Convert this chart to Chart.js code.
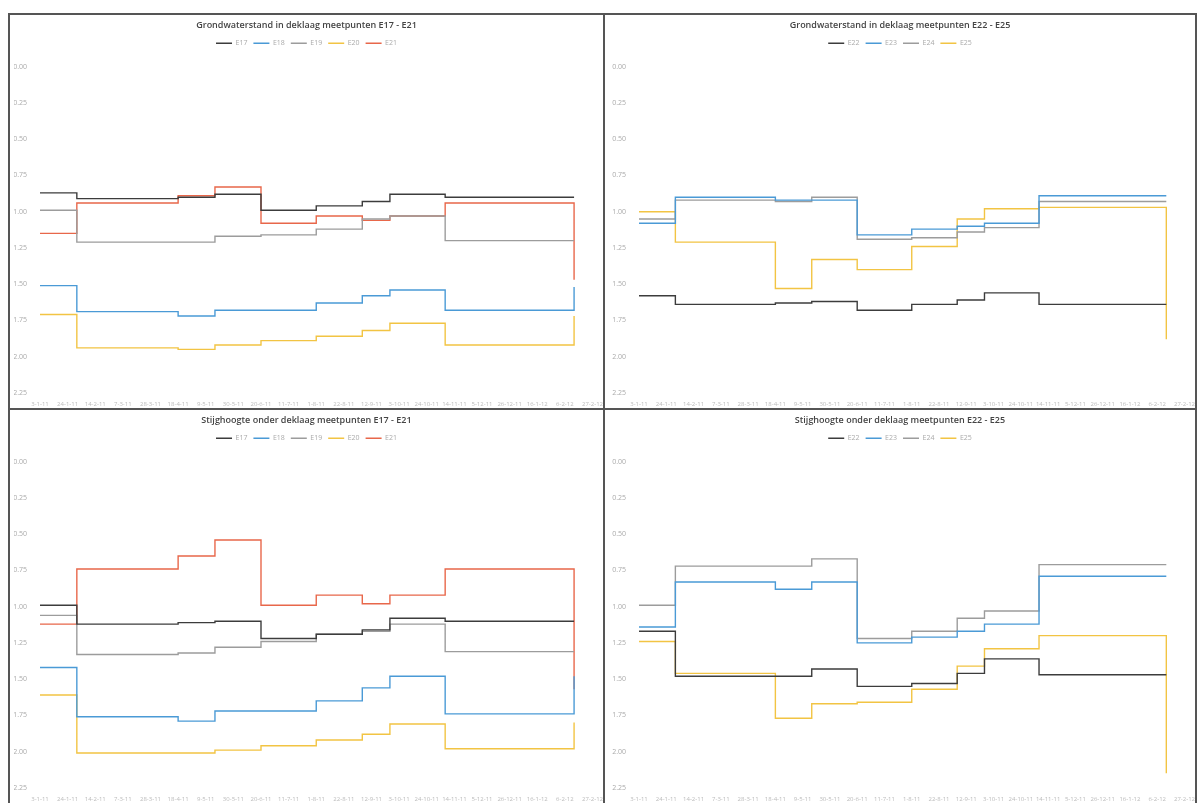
<!DOCTYPE html>
<html>
<head>
<meta charset="utf-8">
<script src="https://cdn.jsdelivr.net/npm/chart.js@4/dist/chart.umd.min.js"></script>
<style>
  body { margin: 0; background: #fff; width: 1198px; height: 803px; overflow: hidden; position: relative; }
  .paneel { position: absolute; box-sizing: border-box; border: 2px solid #555; background: #fff; }
  .paneel canvas { position: absolute; left: 0; top: 0; }
</style>
</head>
<body>
<div class="paneel" style="left:8px;top:13px;width:597px;height:397px"><canvas id="gw1721" width="593" height="393"></canvas></div>
<div class="paneel" style="left:603px;top:13px;width:594px;height:397px"><canvas id="gw2225" width="590" height="393"></canvas></div>
<div class="paneel" style="left:8px;top:408px;width:597px;height:420px"><canvas id="st1721" width="593" height="393"></canvas></div>
<div class="paneel" style="left:603px;top:408px;width:594px;height:420px"><canvas id="st2225" width="590" height="393"></canvas></div>
<script>
// meetdatums (x-as)
const datums = [
  '3-1-11','10-1-11','17-1-11','24-1-11','31-1-11','7-2-11','14-2-11','21-2-11','28-2-11','7-3-11',
  '14-3-11','21-3-11','28-3-11','4-4-11','11-4-11','18-4-11','25-4-11','2-5-11','9-5-11','16-5-11',
  '23-5-11','30-5-11','6-6-11','13-6-11','20-6-11','27-6-11','4-7-11','11-7-11','18-7-11','25-7-11',
  '1-8-11','8-8-11','15-8-11','22-8-11','29-8-11','5-9-11','12-9-11','19-9-11','26-9-11','3-10-11',
  '10-10-11','17-10-11','24-10-11','31-10-11','7-11-11','14-11-11','21-11-11','28-11-11','5-12-11','12-12-11',
  '19-12-11','26-12-11','2-1-12','9-1-12','16-1-12','23-1-12','30-1-12','6-2-12','13-2-12','20-2-12','27-2-12'
];
// posities (index in datums) waar de standen veranderen
const knikpunten = [0, 4, 15, 19, 24, 30, 35, 38, 44, 58];

const yTicks = [0, 0.25, 0.5, 0.75, 1, 1.25, 1.5, 1.75, 2, 2.25];

// Grondwaterstand in deklaag E17 - E21 (m)
const gwE17 = [0.87, 0.91, 0.90, 0.88, 0.99, 0.96, 0.93, 0.88, 0.90, 0.90];
const gwE18 = [1.51, 1.69, 1.72, 1.68, 1.68, 1.63, 1.58, 1.54, 1.68, 1.52];
const gwE19 = [0.99, 1.21, 1.21, 1.17, 1.16, 1.12, 1.05, 1.03, 1.20, 1.20];
const gwE20 = [1.71, 1.94, 1.95, 1.92, 1.89, 1.86, 1.82, 1.77, 1.92, 1.72];
const gwE21 = [1.15, 0.94, 0.89, 0.83, 1.08, 1.03, 1.06, 1.03, 0.94, 1.47];

// Grondwaterstand in deklaag E22 - E25
const gwE22 = [1.58, 1.64, 1.63, 1.62, 1.68, 1.64, 1.61, 1.56, 1.64, 1.64];
const gwE23 = [1.08, 0.90, 0.92, 0.92, 1.16, 1.12, 1.10, 1.08, 0.89, 0.89];
const gwE24 = [1.05, 0.92, 0.93, 0.90, 1.19, 1.18, 1.14, 1.11, 0.93, 0.93];
const gwE25 = [1.00, 1.21, 1.53, 1.33, 1.40, 1.24, 1.05, 0.98, 0.97, 1.88];

// Stijghoogte onder deklaag E17 - E21
const stE17 = [0.99, 1.12, 1.11, 1.10, 1.22, 1.19, 1.16, 1.08, 1.10, 1.10];
const stE18 = [1.42, 1.76, 1.79, 1.72, 1.72, 1.65, 1.56, 1.48, 1.74, 1.48];
const stE19 = [1.06, 1.33, 1.32, 1.28, 1.24, 1.19, 1.17, 1.12, 1.31, 1.31];
const stE20 = [1.61, 2.01, 2.01, 1.99, 1.96, 1.92, 1.88, 1.81, 1.98, 1.80];
const stE21 = [1.12, 0.74, 0.65, 0.54, 0.99, 0.92, 0.98, 0.92, 0.74, 1.57];

// Stijghoogte onder deklaag E22 - E25
const stE22 = [1.17, 1.48, 1.48, 1.43, 1.55, 1.53, 1.46, 1.36, 1.47, 1.47];
const stE23 = [1.14, 0.83, 0.88, 0.83, 1.25, 1.21, 1.17, 1.12, 0.79, 0.79];
const stE24 = [0.99, 0.72, 0.72, 0.67, 1.22, 1.17, 1.08, 1.03, 0.71, 0.71];
const stE25 = [1.24, 1.46, 1.77, 1.67, 1.66, 1.57, 1.41, 1.29, 1.20, 2.15];

const kleuren = {
  zwart: '#3c3c3c',
  blauw: '#4a9ad6',
  grijs: '#9c9c9c',
  geel: '#f2c443',
  rood: '#e8674a'
};

// waarden op de knikpunten zetten, rest leeg
function reeks(waarden) {
  const data = datums.map(() => null);
  knikpunten.forEach((idx, i) => { data[idx] = waarden[i]; });
  return data;
}

function dataset(naam, waarden, kleur) {
  return {
    label: naam,
    data: reeks(waarden),
    borderColor: kleur,
    backgroundColor: kleur,
    borderWidth: 1.4,
    pointRadius: 0,
    stepped: 'before',  // horizontaal tot volgend punt, dan verticaal
    spanGaps: true,
    fill: false
  };
}

// legenda iets hoger maken zodat het plotvlak lager begint
const legendaRuimte = {
  id: 'legendaRuimte',
  beforeInit(chart) {
    const origFit = chart.legend.fit;
    chart.legend.fit = function() {
      origFit.bind(chart.legend)();
      this.height += 10;
    };
  }
};

function maakGrafiek(id, titel, sets, yBreedte) {
  const ctx = document.getElementById(id).getContext('2d');
  return new Chart(ctx, {
    type: 'line',
    data: { labels: datums, datasets: sets },
    plugins: [legendaRuimte],
    options: {
      responsive: false,
      animation: false,
      layout: { padding: { left: 4, right: 4, top: 0, bottom: 0 } },
      plugins: {
        title: {
          display: true,
          text: titel,
          color: '#444',
          font: { family: 'Open Sans', size: 9, weight: '600' },
          padding: { top: 5, bottom: 3 }
        },
        legend: {
          display: true,
          labels: {
            color: '#aaa',
            font: { family: 'Open Sans', size: 7 },
            usePointStyle: true,
            pointStyle: 'line',
            pointStyleWidth: 16,
            padding: 6
          }
        },
        tooltip: { enabled: false }
      },
      scales: {
        x: {
          grid: { display: false },
          border: { display: false },
          ticks: {
            color: '#bbb',
            font: { family: 'Open Sans', size: 6 },
            maxRotation: 0,
            autoSkip: true,
            autoSkipPadding: 2,
            padding: 0
          }
        },
        y: {
          reverse: true,
          min: 0,
          max: 2.25,
          afterBuildTicks(axis) { axis.ticks = yTicks.map(v => ({ value: v })); },
          afterFit(axis) { axis.width = yBreedte; },
          grid: { display: false },
          border: { display: false },
          ticks: {
            color: '#aaa',
            font: { family: 'Open Sans', size: 7 },
            padding: 5,
            callback: v => v.toFixed(2)
          }
        }
      }
    }
  });
}

maakGrafiek('gw1721', 'Grondwaterstand in deklaag meetpunten E17 - E21', [
  dataset('E17', gwE17, kleuren.zwart),
  dataset('E18', gwE18, kleuren.blauw),
  dataset('E19', gwE19, kleuren.grijs),
  dataset('E20', gwE20, kleuren.geel),
  dataset('E21', gwE21, kleuren.rood)
], 26);

maakGrafiek('gw2225', 'Grondwaterstand in deklaag meetpunten E22 - E25', [
  dataset('E22', gwE22, kleuren.zwart),
  dataset('E23', gwE23, kleuren.blauw),
  dataset('E24', gwE24, kleuren.grijs),
  dataset('E25', gwE25, kleuren.geel)
], 30);

maakGrafiek('st1721', 'Stijghoogte onder deklaag meetpunten E17 - E21', [
  dataset('E17', stE17, kleuren.zwart),
  dataset('E18', stE18, kleuren.blauw),
  dataset('E19', stE19, kleuren.grijs),
  dataset('E20', stE20, kleuren.geel),
  dataset('E21', stE21, kleuren.rood)
], 26);

maakGrafiek('st2225', 'Stijghoogte onder deklaag meetpunten E22 - E25', [
  dataset('E22', stE22, kleuren.zwart),
  dataset('E23', stE23, kleuren.blauw),
  dataset('E24', stE24, kleuren.grijs),
  dataset('E25', stE25, kleuren.geel)
], 30);
</script>
</body>
</html>
